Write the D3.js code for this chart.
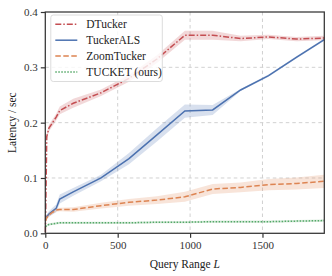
<!DOCTYPE html>
<html>
<head>
<meta charset="utf-8">
<script src="https://cdn.jsdelivr.net/npm/d3@7"></script>
<style>
  body { margin: 0; background: #fff; }
  svg text { font-family: "Liberation Serif", "Times New Roman", Times, serif !important; }
</style>
</head>
<body>
<svg id="chart"></svg>
<script>
// query range values (x)
const queryRange = [1, 10, 25, 50, 75, 100, 193, 385, 578, 771, 964, 1156, 1349, 1542, 1734, 1927];

// latency per method (mean) and half band width
const dtucker     = [0.002, 0.175, 0.19, 0.2, 0.21, 0.222, 0.235, 0.254, 0.28, 0.315, 0.358, 0.358, 0.352, 0.355, 0.351, 0.353];
const dtuckerErr  = [0.004, 0.006, 0.006, 0.006, 0.006, 0.007, 0.008, 0.006, 0.006, 0.007, 0.008, 0.008, 0.005, 0.004, 0.004, 0.004];
const tuckerAls   = [0.025, 0.03, 0.035, 0.04, 0.045, 0.062, 0.075, 0.1, 0.135, 0.178, 0.221, 0.223, 0.259, 0.285, 0.318, 0.35];
const tuckerAlsErr= [0.003, 0.004, 0.005, 0.006, 0.007, 0.008, 0.007, 0.006, 0.01, 0.012, 0.012, 0.009, 0.002, 0.002, 0.002, 0.002];
const zoomTucker  = [0.022, 0.028, 0.033, 0.038, 0.042, 0.043, 0.043, 0.05, 0.056, 0.06, 0.066, 0.08, 0.083, 0.088, 0.09, 0.094];
const zoomTuckerErr=[0.003, 0.003, 0.003, 0.003, 0.003, 0.003, 0.004, 0.005, 0.006, 0.007, 0.009, 0.009, 0.009, 0.01, 0.011, 0.012];
const tucket      = [0.012, 0.014, 0.016, 0.017, 0.018, 0.019, 0.019, 0.019, 0.019, 0.02, 0.02, 0.021, 0.021, 0.021, 0.022, 0.023];
const tucketErr   = [0.002, 0.002, 0.002, 0.002, 0.002, 0.002, 0.002, 0.002, 0.002, 0.002, 0.002, 0.002, 0.002, 0.002, 0.002, 0.002];

const xTicks = [0, 500, 1000, 1500];
const yTicks = [0, 0.1, 0.2, 0.3, 0.4];

const series = [
    {name: "DTucker", values: dtucker, err: dtuckerErr, color: "#C44E52", dash: "6,2,1.5,2"},
    {name: "TuckerALS", values: tuckerAls, err: tuckerAlsErr, color: "#4C72B0", dash: null},
    {name: "ZoomTucker", values: zoomTucker, err: zoomTuckerErr, color: "#DD8452", dash: "5.5,2.5"},
    {name: "TUCKET (ours)", values: tucket, err: tucketErr, color: "#55A868", dash: "1.5,1.5"}
];

// set the dimensions and margins of the graph
const margin = {top: 12, right: 7.7, bottom: 42.7, left: 45.3},
    width = 332 - margin.left - margin.right,
    height = 276 - margin.top - margin.bottom;

const svg = d3.select("#chart")
    .attr("width", 332)
    .attr("height", 276)
    .append("g")
    .attr("transform", "translate(" + margin.left + "," + margin.top + ")");

const x = d3.scaleLinear().domain([0, 1927]).range([0, width]);
const y = d3.scaleLinear().domain([0, 0.4]).range([height, 0]);

// grid
svg.append("g")
    .selectAll("line")
    .data(xTicks.filter(d => d > 0))
    .enter().append("line")
    .attr("x1", d => x(d)).attr("x2", d => x(d))
    .attr("y1", 0).attr("y2", height)
    .attr("stroke", "#cccccc").attr("stroke-width", 0.9).attr("stroke-dasharray", "3.5,3");
svg.append("g")
    .selectAll("line")
    .data(yTicks.filter(d => d > 0 && d < 0.4))
    .enter().append("line")
    .attr("x1", 0).attr("x2", width)
    .attr("y1", d => y(d)).attr("y2", d => y(d))
    .attr("stroke", "#cccccc").attr("stroke-width", 0.9).attr("stroke-dasharray", "3.5,3");

// bands and lines
series.forEach(function(s) {
    const pts = queryRange.map((q, i) => ({q: q, v: s.values[i], e: s.err[i]}));
    svg.append("path")
        .datum(pts)
        .attr("fill", s.color)
        .attr("fill-opacity", 0.22)
        .attr("stroke", "none")
        .attr("d", d3.area()
            .x(d => x(d.q))
            .y0(d => y(d.v - d.e))
            .y1(d => y(d.v + d.e)));
    svg.append("path")
        .datum(pts)
        .attr("fill", "none")
        .attr("stroke", s.color)
        .attr("stroke-width", 1.5)
        .attr("stroke-dasharray", s.dash)
        .attr("d", d3.line()
            .x(d => x(d.q))
            .y(d => y(d.v)));
});

// axes
const xAxis = svg.append("g")
    .attr("transform", "translate(0," + height + ")")
    .call(d3.axisBottom(x).tickValues(xTicks).tickFormat(d3.format("d")).tickSize(4.5).tickPadding(3));
const yAxis = svg.append("g")
    .call(d3.axisLeft(y).tickValues(yTicks).tickFormat(d3.format(".1f")).tickSize(4.5).tickPadding(3));
[xAxis, yAxis].forEach(function(a) {
    a.attr("font-family", null).attr("font-size", null);
    a.select(".domain").remove();
    a.selectAll("line").attr("stroke", "#333").attr("stroke-width", 1.2);
    a.selectAll("text").attr("fill", "#333").style("font-size", "11px");
});

// frame
svg.append("rect")
    .attr("x", 0).attr("y", 0)
    .attr("width", width).attr("height", height)
    .attr("fill", "none")
    .attr("stroke", "#333")
    .attr("stroke-width", 1.25);

// labels
svg.append("text")
    .attr("text-anchor", "middle")
    .attr("x", width / 2)
    .attr("y", height + 35)
    .style("font-size", "11.5px")
    .attr("fill", "#222")
    .html("Query Range <tspan font-style='italic'>L</tspan>");

svg.append("text")
    .attr("text-anchor", "middle")
    .attr("transform", "rotate(-90)")
    .attr("x", -height / 2)
    .attr("y", -29)
    .style("font-size", "11.5px")
    .attr("fill", "#222")
    .text("Latency / sec");

// legend
const legend = svg.append("g").attr("transform", "translate(5.5,3)");
legend.append("rect")
    .attr("width", 111.5).attr("height", 66.5)
    .attr("rx", 2.5)
    .attr("fill", "#fff").attr("fill-opacity", 0.8)
    .attr("stroke", "#d8d8d8").attr("stroke-width", 0.9);
series.forEach(function(s, i) {
    const row = legend.append("g").attr("transform", "translate(0," + (9.3 + i * 15.9) + ")");
    row.append("line")
        .attr("x1", 4.5).attr("x2", 26.5)
        .attr("stroke", s.color).attr("stroke-width", 1.5)
        .attr("stroke-dasharray", s.dash);
    row.append("text")
        .attr("x", 35.5).attr("dy", "0.35em")
        .style("font-size", "11.5px")
        .attr("fill", "#222")
        .text(s.name);
});
</script>
</body>
</html>
